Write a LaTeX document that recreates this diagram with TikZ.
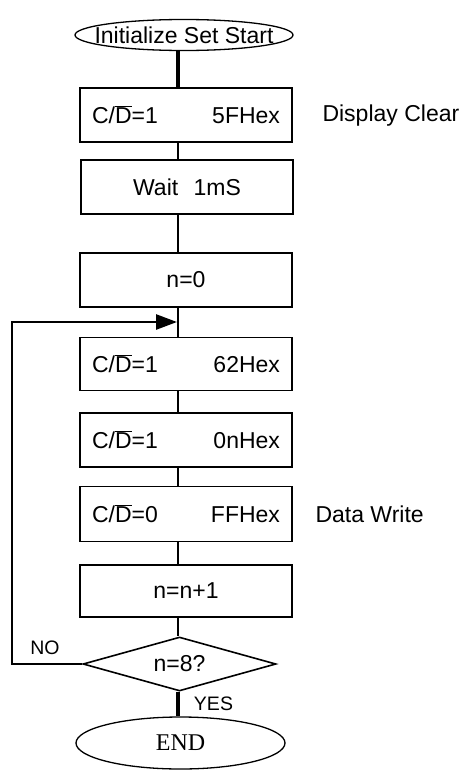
\documentclass[tikz,border=0pt]{standalone}
\usepackage{fontspec}
\setmainfont{Liberation Sans}
\newfontfamily\serfont{Liberation Serif}
\usetikzlibrary{shapes.geometric,arrows.meta}

\begin{document}
\begin{tikzpicture}[x=1pt,y=-1pt,font=\fontsize{23}{26}\selectfont]
    \tikzstyle{B}=[rectangle,draw,line width=1.6pt,minimum width=212pt,minimum height=54pt,inner sep=0pt,text width=188pt,align=center]
    \tikzstyle{BB}=[B,align=justify]
    \tikzstyle{E}=[ellipse,draw,line width=1.3pt,inner sep=0pt]
    \tikzstyle{Q}=[diamond,draw,line width=1.6pt,inner sep=0pt,aspect=3.6,minimum width=193pt,minimum height=54pt]
    \tikzstyle{W}=[line width=2.6pt]
    \tikzstyle{WW}=[line width=3.6pt]
    \tikzstyle{S}=[font=\fontsize{19.5}{22}\selectfont]
    \useasboundingbox (0,0) rectangle (460,771);

    % flow line
    \coordinate (axis) at (178,0);
    \coordinate (loop) at (12,322);

    \node [E,inner xsep=-13pt,inner ysep=2.5pt,minimum width=218pt,minimum height=31pt] (start) at (184,35) {Initialize Set Start};
    \node [BB] (clear) at (186,115) {C/$\overline{\mbox{D}}$=1\hfill 5FHex};
    \node [B] (wait) at (187,187) {Wait\ \ 1mS};
    \node [B] (zero) at (186,280) {n=0};
    \node [BB,minimum height=53pt] (cmd) at (186,364) {C/$\overline{\mbox{D}}$=1\hfill 62Hex};
    \node [BB] (page) at (186,440) {C/$\overline{\mbox{D}}$=1\hfill 0nHex};
    \node [BB,minimum height=55pt] (data) at (186,514) {C/$\overline{\mbox{D}}$=0\hfill FFHex};
    \node [B,minimum height=52pt] (inc) at (186,591) {n=n+1};
    \node [Q] (test) at (179.5,664) {n=8?};
    \node [E,minimum width=209pt,minimum height=52pt,font=\serfont\fontsize{24}{26}\selectfont] (end) at (180.5,743) {END};

    % comments
    \node [anchor=base west] (lclear) at (319,121) {Display Clear};
    \node [anchor=base west] (ldata) at (312,522) {Data Write};

    \draw [WW] (start.south -| axis) -- (clear.north -| axis);
    \draw [W] (clear.south -| axis) -- (wait.north -| axis);
    \draw [W] (wait.south -| axis) -- (zero.north -| axis);
    \draw [W] (zero.south -| axis) -- (cmd.north -| axis);
    \draw [W] (cmd.south -| axis) -- (page.north -| axis);
    \draw [W] (page.south -| axis) -- (data.north -| axis);
    \draw [W] (data.south -| axis) -- (inc.north -| axis);
    \draw [W] (inc.south -| axis) -- (test.north -| axis);
    \draw [WW] (test.south -| axis) -- (end.north -| axis);

    % back to n=0
    \draw [W,-{Triangle[length=21pt,width=15pt]}] (test.west) -| (loop) -- ([xshift=-1pt]loop -| axis);
    \node [S] (no) at (45,648) {NO};
    \node [S] (yes) at (213.5,704) {YES};
\end{tikzpicture}
\end{document}
